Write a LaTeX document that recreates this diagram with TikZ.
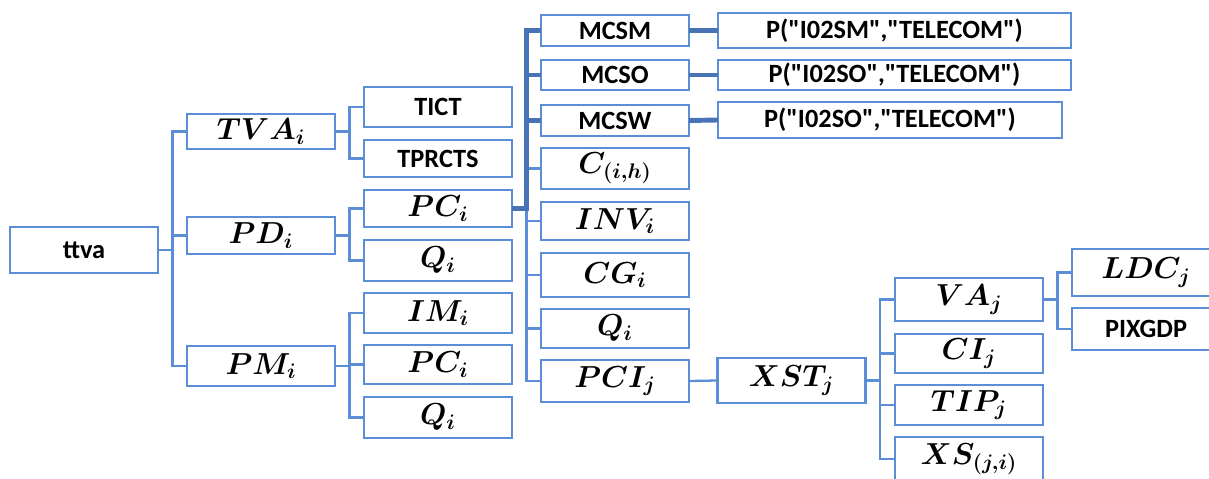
\documentclass[tikz,border=0pt]{standalone}
\usepackage{fontspec}
\setmainfont{Carlito}[Ligatures=TeXOff]
\usepackage{amsmath}
\usepackage{tikz}
\usetikzlibrary{calc}
\definecolor{boxblue}{RGB}{91,142,214}
\definecolor{busblue}{RGB}{72,116,181}
\tikzset{
  box/.style={rectangle, draw=boxblue, fill=white, line width=1.3pt,
    minimum width=2.96cm, minimum height=0.78cm, inner sep=0pt, outer sep=0pt,
    align=center, font=\fontsize{15}{17}\selectfont\bfseries},
  mbox/.style={box, font=\fontsize{17.5}{19}\selectfont},
  widebox/.style={box, minimum width=7.06cm},
  link/.style={draw=boxblue, line width=1.3pt},
  thicklink/.style={draw=busblue, line width=2.8pt}
}

\begin{document}
\begin{tikzpicture}[x=0.02cm, y=-0.02cm]
  \useasboundingbox (0,0) rectangle (1209,479);
  \clip (0,0) rectangle (1209,479);
  % Root
  \node[box, minimum height=0.92cm] (ttva) at (84,250) {ttva};
  % Level 1
  \node[mbox, minimum height=0.70cm] (tva) at (261,131.5) {$\boldsymbol{TVA_i}$};
  \node[mbox, minimum height=0.74cm] (pd) at (261,235.5) {$\boldsymbol{PD_i}$};
  \node[mbox, minimum height=0.80cm] (pm) at (261,366) {$\boldsymbol{PM_i}$};
  % Level 2
  \node[box, minimum height=0.80cm] (tict) at (438,107) {TICT};
  \node[box, minimum height=0.74cm] (tprcts) at (438,158.5) {TPRCTS};
  \node[mbox, minimum height=0.74cm] (pc1) at (438,208.5) {$\boldsymbol{PC_i}$};
  \node[mbox, minimum height=0.82cm] (q1) at (438,260.5) {$\boldsymbol{Q_i}$};
  \node[mbox, minimum height=0.80cm] (im) at (438,313) {$\boldsymbol{IM_i}$};
  \node[mbox, minimum height=0.78cm] (pc2) at (438,364.5) {$\boldsymbol{PC_i}$};
  \node[mbox, minimum height=0.82cm] (q2) at (438,417.5) {$\boldsymbol{Q_i}$};
  % Level 3
  \node[box, minimum height=0.62cm] (mcsm) at (615,30.5) {MCSM};
  \node[box, minimum height=0.60cm] (mcso) at (615,75) {MCSO};
  \node[box, minimum height=0.62cm] (mcsw) at (615,120.5) {MCSW};
  \node[mbox, minimum height=0.82cm] (cih) at (615,168.5) {$\boldsymbol{C_{(i,h)}}$};
  \node[mbox, minimum height=0.76cm] (inv) at (615,221) {$\boldsymbol{INV_i}$};
  \node[mbox, minimum height=0.88cm] (cg) at (615,275) {$\boldsymbol{CG_i}$};
  \node[mbox, minimum height=0.78cm] (q3) at (615,328.5) {$\boldsymbol{Q_i}$};
  \node[mbox, minimum height=0.84cm] (pci) at (615,381) {$\boldsymbol{PCI_j}$};
  % Level 4
  \node[widebox, minimum height=0.70cm] (psm) at (894.5,30.5) {P("I02SM","TELECOM")};
  \node[widebox, minimum height=0.60cm] (pso) at (894.5,75) {P("I02SO","TELECOM")};
  \node[widebox, minimum width=6.88cm, minimum height=0.72cm] (psw) at (890,120) {P("I02SO","TELECOM")};
  \node[mbox, minimum height=0.90cm] (xst) at (791.5,380.5) {$\boldsymbol{XST_j}$};
  % Level 5
  \node[mbox, minimum height=0.86cm] (va) at (969,299.5) {$\boldsymbol{VA_j}$};
  \node[mbox, minimum height=0.78cm] (ci) at (969,353.5) {$\boldsymbol{CI_j}$};
  \node[mbox, minimum height=0.80cm] (tip) at (969,405) {$\boldsymbol{TIP_j}$};
  \node[mbox, minimum height=0.88cm] (xs) at (969,459) {$\boldsymbol{XS_{(j,i)}}$};
  % Level 6
  \node[mbox, minimum height=0.94cm] (ldc) at (1146,272.5) {$\boldsymbol{LDC_j}$};
  \node[box, minimum height=0.84cm] (pixgdp) at (1146,329) {PIXGDP};
  % Connectors
  \foreach \c in {tva,pd,pm} \draw[link] (ttva.east) -- ++(14.5,0) |- (\c.west);
  \foreach \c in {tict,tprcts} \draw[link] (tva.east) -- ++(14.5,0) |- (\c.west);
  \foreach \c in {pc1,q1} \draw[link] (pd.east) -- ++(14.5,0) |- (\c.west);
  \foreach \c in {im,pc2,q2} \draw[link] (pm.east) -- ++(14.5,0) |- (\c.west);
  \foreach \c in {cih,inv,cg,q3,pci} \draw[link] (pc1.east) -- ++(14.5,0) |- (\c.west);
  \foreach \c in {mcsm,mcso,mcsw} \draw[thicklink] (pc1.east) -- ++(14.5,0) |- (\c.west);
  \draw[thicklink] (mcsm.east) -- (psm.west);
  \draw[thicklink] (mcso.east) -- (pso.west);
  \draw[thicklink] (mcsw.east) -- (psw.west);
  \draw[link] (pci.east) -- (xst.west);
  \foreach \c in {va,ci,tip,xs} \draw[link] (xst.east) -- ++(14.5,0) |- (\c.west);
  \foreach \c in {ldc,pixgdp} \draw[link] (va.east) -- ++(14.5,0) |- (\c.west);
\end{tikzpicture}
\end{document}
